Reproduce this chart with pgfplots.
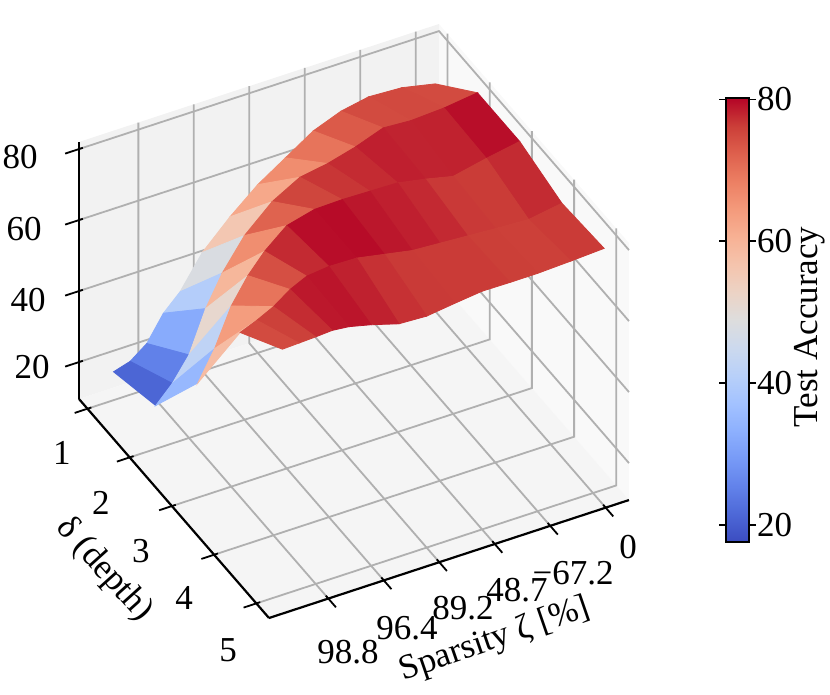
\documentclass[border=0pt]{standalone}
\usepackage{pgfplots}
\pgfplotsset{compat=1.18}
\usepackage{fontspec}
\setmainfont{Liberation Serif}
\newcommand\lbl{\fontsize{17.5}{21}\selectfont}
\definecolor{paneL}{RGB}{242,242,242}
\definecolor{paneR}{RGB}{249,249,249}
\definecolor{paneF}{RGB}{245,245,245}
\definecolor{gridc}{RGB}{176,176,176}
\pgfplotsset{colormap={cw}{rgb255=(59,76,192) rgb255=(77,104,215) rgb255=(98,130,234) rgb255=(119,154,247) rgb255=(141,176,254) rgb255=(163,194,255) rgb255=(184,208,249) rgb255=(204,217,238) rgb255=(221,221,221) rgb255=(236,211,197) rgb255=(245,196,173) rgb255=(247,177,148) rgb255=(244,154,123) rgb255=(236,127,99) rgb255=(222,96,77) rgb255=(203,62,56) rgb255=(180,4,38)}}
\begin{document}
\begin{tikzpicture}
\begin{axis}[
  hide axis, clip=false,
  x={(27.735pt,9.09pt)}, y={(21.11pt,-24.335pt)}, z={(0pt,1.775pt)},
  xmin=-1.07, xmax=5.42, ymin=0.8, ymax=5.3, zmin=9.6, zmax=82,
  colormap name=cw, point meta min=17.6, point meta max=80.2,
]
\coordinate (O) at (-1.07,0.8,9.6);
% panes
\fill[paneL] (-1.07,0.8,9.6) -- (5.42,0.8,9.6) -- (5.42,0.8,82) -- (-1.07,0.8,82) -- cycle;
\fill[paneR] (5.42,0.8,9.6) -- (5.42,5.3,9.6) -- (5.42,5.3,82) -- (5.42,0.8,82) -- cycle;
\fill[paneF] (-1.07,0.8,9.6) -- (5.42,0.8,9.6) -- (5.42,5.3,9.6) -- (-1.07,5.3,9.6) -- cycle;
% grid
\pgfplotsinvokeforeach{0,1,2,3,4,5}{
  \draw[gridc, line width=0.9pt] (#1,5.3,9.6) -- (#1,0.8,9.6) -- (#1,0.8,82);
}
\pgfplotsinvokeforeach{1,2,3,4,5}{
  \draw[gridc, line width=0.9pt] (-1.07,#1,9.6) -- (5.42,#1,9.6) -- (5.42,#1,82);
}
\pgfplotsinvokeforeach{20,40,60,80}{
  \draw[gridc, line width=0.9pt] (-1.07,0.8,#1) -- (5.42,0.8,#1) -- (5.42,5.3,#1);
}
\addplot3[surf, shader=flat mean, z buffer=none, mesh/ordering=x varies] coordinates {
(5.2,1,69) (4.6,1,71) (4.0,1,71.5) (3.5,1,70) (3.0,1,67) (2.5,1,62) (2.0,1,57) (1.5,1,50.5) (1.0,1,43) (0.6,1,34) (0.3,1,29.5) (0.0,1,22.5) (-0.3,1,19) (-0.6,1,17.6)

(5.2,2,80.2) (4.6,2,79) (4.0,2,78.5) (3.5,2,79) (3.0,2,76.2) (2.5,2,74.1) (2.0,2,72.8) (1.5,2,68.5) (1.0,2,61.5) (0.6,2,53) (0.3,2,44.5) (0.0,2,33) (-0.3,2,26.5) (-0.6,2,21.8)

(5.2,3,80.2) (4.6,3,78.5) (4.0,3,76.5) (3.5,3,78.3) (3.0,3,79.8) (2.5,3,80) (2.0,3,80.2) (1.5,3,80) (1.0,3,78) (0.6,3,72.8) (0.3,3,67.5) (0.0,3,60.5) (-0.3,3,50) (-0.6,3,41.9)

(5.2,4,76.5) (4.6,4,75) (4.0,4,75.5) (3.5,4,76) (3.0,4,76.5) (2.5,4,77) (2.0,4,78.5) (1.5,4,80) (1.0,4,80.2) (0.6,4,79.5) (0.3,4,77.3) (0.0,4,74) (-0.3,4,71.7) (-0.6,4,69.8)

(5.2,5,77.5) (4.6,5,77) (4.0,5,76.6) (3.5,5,76.6) (3.0,5,76.7) (2.5,5,75.8) (2.0,5,74.8) (1.5,5,75.2) (1.0,5,77.5) (0.6,5,79) (0.3,5,79.5) (0.0,5,79.2) (-0.3,5,79) (-0.6,5,78.8)
};
% axis lines and ticks
\draw[black, line width=1.1pt] (-1.07,5.3,9.6) -- (5.42,5.3,9.6);
\draw[black, line width=1.1pt] (-1.07,0.8,9.6) -- (-1.07,5.3,9.6);
\draw[black, line width=1.1pt] (-1.07,0.8,9.6) -- (-1.07,0.8,82);
\pgfplotsinvokeforeach{0,1,2,3,4,5}{
  \draw[black, line width=0.9pt] (#1,5.24,9.6) -- (#1,5.48,9.6);
}
\pgfplotsinvokeforeach{1,2,3,4,5}{
  \draw[black, line width=0.9pt] (-1.0,#1,9.6) -- (-1.3,#1,9.6);
}
\pgfplotsinvokeforeach{20,40,60,80}{
  \draw[black, line width=0.9pt] (-1.0,0.8,#1) -- (-1.32,0.8,#1);
}
\end{axis}
\coordinate (CB) at ([shift={(315pt,150.5pt)}]O);
% colorbar
\begin{axis}[at={(CB)}, anchor=north west,
  hide axis, scale only axis, width=11.5pt, height=222pt,
  xmin=0, xmax=1, ymin=0, ymax=1,
  colormap name=cw, point meta min=17.6, point meta max=80.2,
  colorbar,
  colorbar style={at={(parent axis.north west)}, anchor=north west,
    width=11.5pt, height=222pt,
    ytick={20,40,60,80},
    tick align=outside, major tick length=3.5pt,
    every tick/.style={black, line width=0.8pt},
    axis line style={black, line width=0.8pt},
    yticklabel pos=right,
    ticklabel style={font=\lbl},
    yticklabel style={xshift=-3pt},
    /pgf/number format/assume math mode=true,
  },
]
\addplot[draw=none] coordinates {(0,0)};
\end{axis}
\begin{scope}[shift={(O)}, x=0.5pt, y=-0.5pt, shift={(-79,-399)}]
\begin{scope}[every node/.style={font=\lbl, inner sep=0pt}]
% z tick labels
\node[anchor=east] at (38,157) {80};
\node[anchor=east] at (42,229) {60};
\node[anchor=east] at (46,300) {40};
\node[anchor=east] at (50,367) {20};
% y tick labels
\node at (62,453) {1};
\node at (101,503) {2};
\node at (141,551) {3};
\node at (184,598) {4};
\node at (228,650) {5};
% x tick labels
\node at (348,652) {98.8};
\node at (407,628) {96.4};
\node at (463,608) {89.2};
\node at (517,590) {48.7};
\node at (573,573) {−67.2};
\node at (628,547) {0};
% axis labels
\node[rotate=19] at (495,640) {Sparsity ζ [\%]};
\node[rotate=-48] at (104,570) {δ (depth)};
\node[rotate=90] at (810,327) {Test Accuracy};
\end{scope}
\pgfresetboundingbox
\path (0,0) rectangle (830,695);
\end{scope}
\end{tikzpicture}
\end{document}
